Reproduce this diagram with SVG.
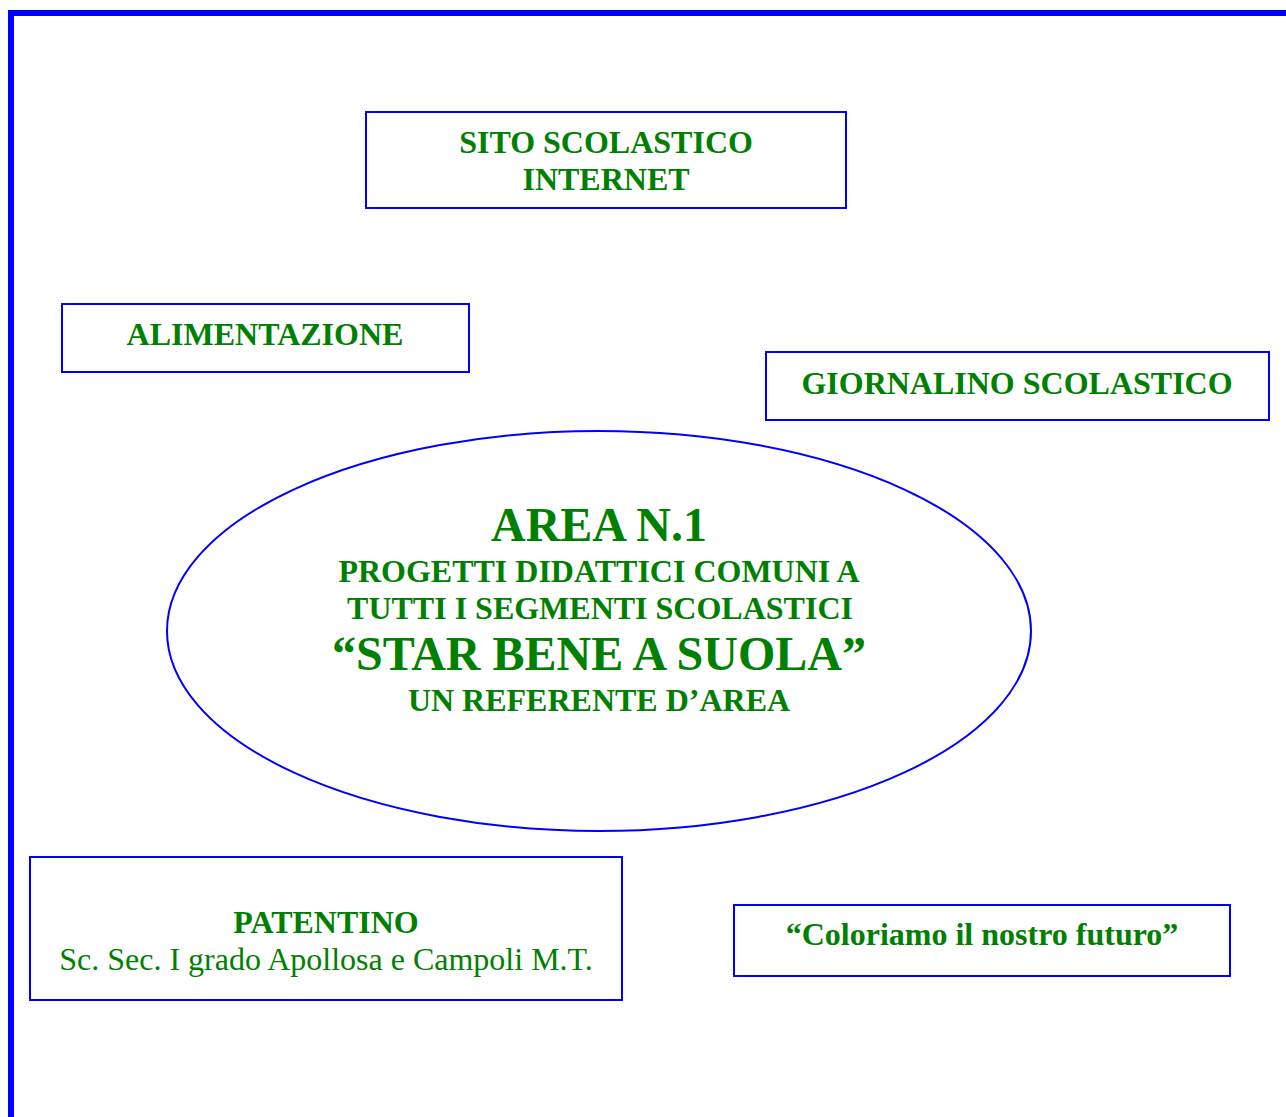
<svg xmlns="http://www.w3.org/2000/svg" width="1286" height="1117" viewBox="0 0 1286 1117">
<style>
.box{fill:#fff;stroke:#0000ff;stroke-width:2}
.t{font-family:"Liberation Serif","Times New Roman",serif;fill:#008000;text-anchor:middle}
.b{font-weight:bold}
.s32{font-size:32px}
.s48{font-size:48px}
</style>
<rect width="1286" height="1117" fill="#fff"/>
<path d="M11 1117 V13 H1286" fill="none" stroke="#0000ff" stroke-width="6"/>
<g id="connectors"></g>
<g id="sito">
<rect class="box" x="366" y="112" width="480" height="96"/>
<text class="t b s32" x="606" y="153">SITO SCOLASTICO</text>
<text class="t b s32" x="606" y="190">INTERNET</text>
</g>
<g id="alimentazione">
<rect class="box" x="62" y="304" width="407" height="68"/>
<text class="t b s32" x="265" y="345">ALIMENTAZIONE</text>
</g>
<g id="giornalino">
<rect class="box" x="766" y="352" width="503" height="68"/>
<text class="t b s32" x="1017" y="394">GIORNALINO SCOLASTICO</text>
</g>
<g id="area">
<ellipse cx="599" cy="631" rx="432" ry="200" fill="#fff" stroke="#0000ff" stroke-width="2"/>
<text class="t b s48" x="599" y="541">AREA N.1</text>
<text class="t b s32" x="599" y="582">PROGETTI DIDATTICI COMUNI A</text>
<text class="t b s32" x="600" y="619">TUTTI I SEGMENTI SCOLASTICI</text>
<text class="t b s48" x="599" y="670">“STAR BENE A SUOLA”</text>
<text class="t b s32" x="599" y="711">UN REFERENTE D’AREA</text>
</g>
<g id="patentino">
<rect class="box" x="30" y="857" width="592" height="143"/>
<text class="t b s32" x="326" y="933">PATENTINO</text>
<text class="t s32" x="326" y="970">Sc. Sec. I grado Apollosa e Campoli M.T.</text>
</g>
<g id="coloriamo">
<rect class="box" x="734" y="905" width="496" height="71"/>
<text class="t b s32" x="982" y="945">“Coloriamo il nostro futuro”</text>
</g>
</svg>
